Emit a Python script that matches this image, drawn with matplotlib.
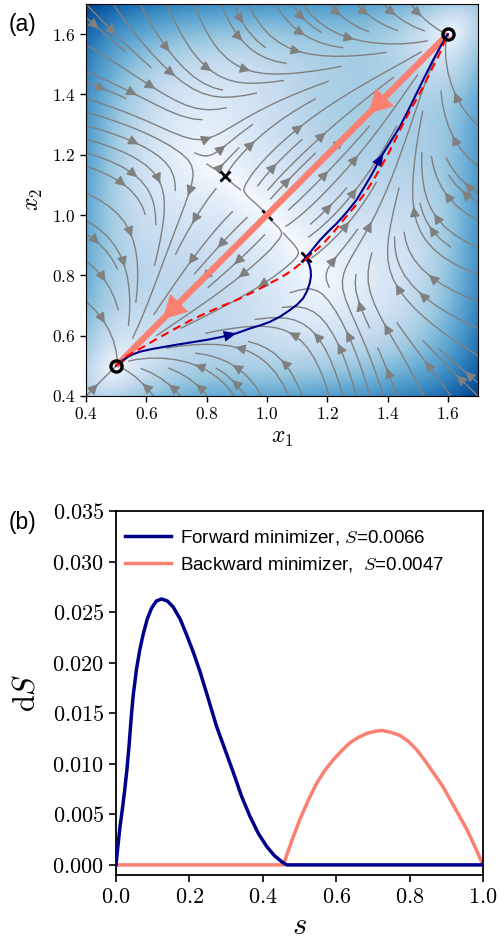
import numpy as np
import matplotlib
matplotlib.use("Agg")
import matplotlib.pyplot as plt
from matplotlib.colors import PowerNorm

plt.rcParams['mathtext.fontset'] = 'cm'
plt.rcParams['font.family'] = ['Liberation Sans', 'DejaVu Sans']

# ---------------- data ----------------
# panel (a): fixed points
stable_x = [0.5, 1.6]
stable_y = [0.5, 1.6]
saddle_x = [0.86, 1.13, 1.0]
saddle_y = [1.13, 0.86, 1.0]

# forward minimizer path (blue)
fwd_x = [0.500, 0.515, 0.535, 0.555, 0.579, 0.620, 0.660, 0.700, 0.750, 0.800,
         0.850, 0.899, 0.944, 0.980, 1.010, 1.045, 1.076, 1.100, 1.120, 1.133,
         1.142, 1.146, 1.145, 1.141, 1.135, 1.126, 1.150, 1.176, 1.203, 1.231,
         1.265, 1.297, 1.320, 1.345, 1.365, 1.385, 1.413, 1.441, 1.469, 1.496,
         1.523, 1.551, 1.576, 1.600]
fwd_y = [0.500, 0.513, 0.528, 0.538, 0.547, 0.556, 0.563, 0.570, 0.578, 0.586,
         0.596, 0.608, 0.624, 0.635, 0.646, 0.664, 0.685, 0.703, 0.724, 0.748,
         0.774, 0.797, 0.818, 0.834, 0.847, 0.856, 0.885, 0.917, 0.945, 0.972,
         1.010, 1.050, 1.088, 1.130, 1.167, 1.204, 1.248, 1.293, 1.348, 1.403,
         1.458, 1.514, 1.560, 1.600]
fwd_arrow_idx = [11, 35]

# heteroclinic / red dashed path
het_x = [0.500, 0.520, 0.535, 0.580, 0.634, 0.690, 0.745, 0.800, 0.850, 0.899,
         0.944, 0.980, 1.010, 1.045, 1.076, 1.100, 1.126, 1.155, 1.187, 1.220,
         1.253, 1.290, 1.325, 1.360, 1.397, 1.425, 1.452, 1.485, 1.518, 1.545,
         1.573, 1.600]
het_y = [0.500, 0.520, 0.532, 0.557, 0.589, 0.620, 0.650, 0.676, 0.698, 0.718,
         0.740, 0.758, 0.774, 0.792, 0.812, 0.830, 0.851, 0.877, 0.906, 0.942,
         0.983, 1.027, 1.072, 1.128, 1.193, 1.248, 1.304, 1.365, 1.425, 1.480,
         1.536, 1.600]

# backward minimizer (salmon, straight along diagonal)
bwd_x = [1.6, 0.5]
bwd_y = [1.6, 0.5]
bwd_arrow_frac = [0.24, 0.86]

# vector field parameters (coupled bistable units)
k_rate = 1.0
coupling = 0.138
roots = [0.5, 1.0, 1.6]

ticks_a = [0.4, 0.6, 0.8, 1.0, 1.2, 1.4, 1.6]

# panel (b)
s_fwd = [0.000, 0.005, 0.011, 0.018, 0.024, 0.030, 0.036, 0.042, 0.047, 0.056,
         0.065, 0.074, 0.085, 0.097, 0.110, 0.124, 0.140, 0.156, 0.175, 0.193,
         0.211, 0.229, 0.250, 0.274, 0.297, 0.320, 0.342, 0.365, 0.388, 0.411,
         0.432, 0.452, 0.465, 1.000]
ds_fwd = [0.0000, 0.0018, 0.0038, 0.0057, 0.0075, 0.0095, 0.0120, 0.0148, 0.0168, 0.0194,
          0.0213, 0.0228, 0.0243, 0.0254, 0.0261, 0.0263, 0.0261, 0.0255, 0.0243, 0.0227,
          0.0210, 0.0191, 0.0166, 0.0137, 0.0114, 0.0091, 0.0068, 0.0048, 0.0031, 0.0018,
          0.0009, 0.0003, 0.0000, 0.0000]
s_bwd = [0.000, 0.456, 0.478, 0.501, 0.524, 0.547, 0.570, 0.592, 0.615, 0.638,
         0.660, 0.683, 0.705, 0.724, 0.750, 0.774, 0.797, 0.819, 0.842, 0.865,
         0.888, 0.910, 0.933, 0.956, 0.978, 1.000]
ds_bwd = [0.0000, 0.0000, 0.0023, 0.0045, 0.0064, 0.0081, 0.0094, 0.0104, 0.0113, 0.0121,
          0.0126, 0.0130, 0.0132, 0.0133, 0.0131, 0.0128, 0.0122, 0.0114, 0.0103, 0.0091,
          0.0079, 0.0065, 0.0050, 0.0035, 0.0018, 0.0000]
label_fwd = 'Forward minimizer, $S$=0.0066'
label_bwd = 'Backward minimizer,  $S$=0.0047'
xticks_b = [0.0, 0.2, 0.4, 0.6, 0.8, 1.0]
yticks_b = [0.000, 0.005, 0.010, 0.015, 0.020, 0.025, 0.030, 0.035]

NAVY = '#00008b'
SALMON = '#fa8072'

# ---------------- figure ----------------
fig = plt.figure(figsize=(4.99, 9.43), dpi=100)
axa = fig.add_axes([86/499, 1-396/943, 392/499, 392/943])
axb = fig.add_axes([116/499, 1-875/943, 367/499, 364/943])

def h(x):
    return -k_rate * (x - roots[0]) * (x - roots[1]) * (x - roots[2])

g = np.linspace(0.4, 1.7, 300)
X, Y = np.meshgrid(g, g)
U = h(X) + coupling * (Y - X)
V = h(Y) + coupling * (X - Y)
speed = np.hypot(U, V)

axa.imshow(speed, extent=[0.4, 1.7, 0.4, 1.7], origin='lower', cmap='Blues',
           norm=PowerNorm(gamma=0.78, vmin=0, vmax=speed.max() * 1.08),
           interpolation='bilinear', zorder=0)
axa.streamplot(X, Y, U, V, color='gray', density=1.0, linewidth=1.0,
               arrowsize=1.5, zorder=1)

axa.plot(saddle_x, saddle_y, 'x', color='k', ms=7.5, mew=2, zorder=3)
axa.plot(bwd_x, bwd_y, color=SALMON, lw=4.5, solid_capstyle='butt', zorder=4)
for f in bwd_arrow_frac:
    tx = bwd_x[0] + f * (bwd_x[1] - bwd_x[0])
    ty = bwd_y[0] + f * (bwd_y[1] - bwd_y[0])
    dx = (bwd_x[1] - bwd_x[0]); dy = (bwd_y[1] - bwd_y[0])
    L = np.hypot(dx, dy); ux, uy = dx / L, dy / L
    hl = 0.078
    axa.arrow(tx - ux * hl, ty - uy * hl, ux * hl, uy * hl, width=0.0,
              head_width=0.085, head_length=hl, length_includes_head=True,
              fc=SALMON, ec='none', zorder=4)
axa.plot(fwd_x, fwd_y, color=NAVY, lw=1.5, zorder=5)
for i in fwd_arrow_idx:
    dx = fwd_x[i] - fwd_x[i-1]; dy = fwd_y[i] - fwd_y[i-1]
    L = np.hypot(dx, dy); ux, uy = dx / L, dy / L
    hl = 0.042
    axa.arrow(fwd_x[i] - ux * hl, fwd_y[i] - uy * hl, ux * hl, uy * hl, width=0.0,
              head_width=0.036, head_length=hl, length_includes_head=True,
              fc=NAVY, ec='none', zorder=5)
axa.plot(het_x, het_y, color='red', lw=1.5, ls=(0, (4, 2.5)), zorder=6)
axa.plot(stable_x, stable_y, 'o', ms=8, mfc='none', mec='k', mew=2.4, zorder=7)

axa.set_xlim(0.4, 1.7)
axa.set_ylim(0.4, 1.7)
axa.set_xticks(ticks_a)
axa.set_yticks(ticks_a)
axa.set_xticklabels([f'${t:.1f}$' for t in ticks_a], fontsize=12.5)
axa.set_yticklabels([f'${t:.1f}$' for t in ticks_a], fontsize=12.5)
axa.tick_params(direction='out', length=4, width=1)
axa.set_xlabel('$x_1$', fontsize=17, labelpad=3)
axa.set_ylabel('$x_2$', fontsize=17, labelpad=5)
fig.text(9/499, 1-25/943, '(a)', fontsize=16.5, va='center', ha='left')

# panel (b)
axb.plot(s_fwd, ds_fwd, color=NAVY, lw=2.5, label=label_fwd, zorder=3)
axb.plot(s_bwd, ds_bwd, color=SALMON, lw=2.5, label=label_bwd, zorder=2)
axb.set_xlim(0, 1)
axb.set_ylim(-0.001, 0.035)
axb.set_xticks(xticks_b)
axb.set_yticks(yticks_b)
axb.set_xticklabels([f'${t:.1f}$' for t in xticks_b], fontsize=16)
axb.set_yticklabels([f'${t:.3f}$' for t in yticks_b], fontsize=16)
axb.tick_params(direction='out', length=5, width=1.2)
for sp in axb.spines.values():
    sp.set_linewidth(1.3)
axb.set_xlabel('$s$', fontsize=22, labelpad=2)
axb.set_ylabel(r'$\mathrm{d}S$', fontsize=22, labelpad=8)
axb.legend(loc='upper left', bbox_to_anchor=(-0.01, 0.988), frameon=False,
           fontsize=13.5, handlelength=2.45, handletextpad=0.45,
           labelspacing=0.4, borderaxespad=0.3)
fig.text(9/499, 1-523/943, '(b)', fontsize=16.5, va='center', ha='left')

fig.savefig('out.png', dpi=100)
